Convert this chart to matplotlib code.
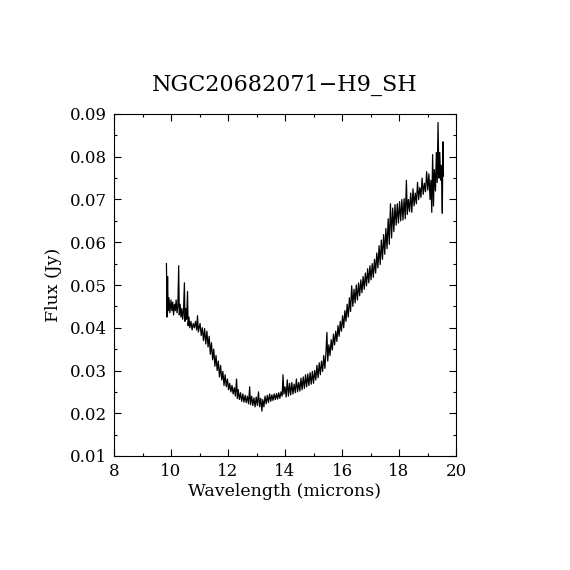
import matplotlib
matplotlib.use("Agg")
import matplotlib.pyplot as plt
from matplotlib.ticker import MultipleLocator, FormatStrFormatter

# spektrum: dlugosc fali (mikrony) i strumien (Jy)
wavelength = [
    9.84, 9.86, 9.88, 9.90, 9.93, 9.96, 10.00, 10.03, 10.06, 10.09,
    10.12, 10.15, 10.18, 10.21, 10.24, 10.27, 10.29, 10.32, 10.35, 10.38,
    10.41, 10.44, 10.47, 10.49, 10.52, 10.55, 10.58, 10.60, 10.63, 10.66,
    10.70, 10.74, 10.78, 10.82, 10.86, 10.90, 10.93, 10.96, 11.02, 11.06,
    11.10, 11.14, 11.18, 11.22, 11.26, 11.30, 11.34, 11.38, 11.42, 11.46,
    11.50, 11.54, 11.58, 11.62, 11.66, 11.70, 11.74, 11.78, 11.82, 11.86,
    11.90, 11.94, 11.98, 12.02, 12.06, 12.10, 12.14, 12.18, 12.22, 12.26,
    12.30, 12.33, 12.36, 12.40, 12.44, 12.48, 12.52, 12.56, 12.60, 12.64,
    12.68, 12.72, 12.76, 12.79, 12.83, 12.87, 12.91, 12.95, 12.99, 13.03,
    13.07, 13.11, 13.15, 13.19, 13.22, 13.26, 13.30, 13.34, 13.38, 13.42,
    13.46, 13.50, 13.54, 13.58, 13.62, 13.66, 13.70, 13.74, 13.78, 13.82,
    13.86, 13.90, 13.93, 13.96, 14.00, 14.04, 14.08, 14.12, 14.16, 14.20,
    14.24, 14.28, 14.32, 14.36, 14.40, 14.44, 14.48, 14.52, 14.56, 14.60,
    14.64, 14.68, 14.72, 14.76, 14.80, 14.84, 14.88, 14.92, 14.96, 15.00,
    15.04, 15.08, 15.12, 15.16, 15.20, 15.24, 15.28, 15.32, 15.36, 15.40,
    15.44, 15.47, 15.50, 15.54, 15.58, 15.62, 15.66, 15.70, 15.74, 15.78,
    15.82, 15.86, 15.90, 15.94, 15.98, 16.02, 16.06, 16.10, 16.14, 16.18,
    16.22, 16.26, 16.30, 16.34, 16.38, 16.42, 16.46, 16.50, 16.54, 16.58,
    16.62, 16.66, 16.70, 16.74, 16.78, 16.82, 16.86, 16.90, 16.94, 16.98,
    17.02, 17.06, 17.10, 17.14, 17.18, 17.22, 17.26, 17.30, 17.34, 17.38,
    17.42, 17.46, 17.50, 17.54, 17.58, 17.62, 17.66, 17.70, 17.74, 17.78,
    17.82, 17.86, 17.90, 17.94, 17.98, 18.02, 18.06, 18.10, 18.14, 18.18,
    18.22, 18.26, 18.29, 18.33, 18.37, 18.41, 18.45, 18.49, 18.53, 18.57,
    18.61, 18.65, 18.69, 18.73, 18.77, 18.81, 18.85, 18.89, 18.93, 18.97,
    19.01, 19.05, 19.09, 19.12, 19.15, 19.18, 19.21, 19.24, 19.28, 19.31,
    19.34, 19.37, 19.40, 19.43, 19.46, 19.49, 19.52, 19.54, 19.56,
]
flux = [
    # 9.84 - 10.96
    0.0550, 0.0425, 0.0520, 0.0440, 0.0470, 0.0435, 0.0465, 0.0440, 0.0460, 0.0430,
    0.0455, 0.0440, 0.0465, 0.0435, 0.0450, 0.0545, 0.0430, 0.0455, 0.0425, 0.0445,
    0.0420, 0.0440, 0.0505, 0.0415, 0.0445, 0.0420, 0.0485, 0.0405, 0.0425, 0.0400,
    0.0415, 0.0395, 0.0410, 0.0400, 0.0415, 0.0395, 0.0428, 0.0390,
    # 11.02 - 11.98
    0.0410, 0.0382, 0.0400, 0.0370, 0.0398, 0.0362, 0.0392, 0.0355, 0.0380, 0.0338,
    0.0365, 0.0325, 0.0350, 0.0310, 0.0335, 0.0300, 0.0322, 0.0285, 0.0312, 0.0278,
    0.0298, 0.0265, 0.0290, 0.0262, 0.0280,
    # 12.02 - 13.96
    0.0255, 0.0270, 0.0250, 0.0265, 0.0245, 0.0260, 0.0240,
    0.0280, 0.0235, 0.0255, 0.0232, 0.0248, 0.0228, 0.0245, 0.0226, 0.0242, 0.0225,
    0.0240, 0.0222, 0.0262, 0.0220, 0.0240, 0.0218, 0.0236, 0.0215, 0.0238, 0.0218,
    0.0250, 0.0215, 0.0235, 0.0205, 0.0232, 0.0215, 0.0240, 0.0222, 0.0242, 0.0225,
    0.0245, 0.0228, 0.0243, 0.0230, 0.0245, 0.0232, 0.0246, 0.0233, 0.0248, 0.0235,
    0.0250, 0.0240, 0.0290, 0.0245,
    # 14.00 - 14.96
    0.0262, 0.0238, 0.0278, 0.0240, 0.0270, 0.0243, 0.0272, 0.0245, 0.0268, 0.0248,
    0.0280, 0.0250, 0.0272, 0.0252, 0.0282, 0.0255, 0.0285, 0.0258, 0.0290, 0.0262,
    0.0292, 0.0265, 0.0295, 0.0268, 0.0298,
    # 15.00 - 15.47
    0.0270, 0.0300, 0.0278, 0.0312, 0.0283, 0.0318, 0.0290, 0.0322, 0.0298, 0.0335,
    0.0305, 0.0345, 0.0389,
    # 15.50 - 16.22
    0.0322, 0.0360, 0.0335, 0.0372, 0.0348, 0.0385, 0.0360, 0.0392, 0.0368, 0.0405,
    0.0380, 0.0415, 0.0392, 0.0428, 0.0400, 0.0440, 0.0415, 0.0455, 0.0425,
    # 16.26 - 17.10
    0.0470, 0.0438, 0.0498, 0.0450, 0.0490, 0.0458, 0.0500, 0.0465, 0.0505, 0.0475,
    0.0512, 0.0482, 0.0520, 0.0490, 0.0528, 0.0498, 0.0538, 0.0505, 0.0545, 0.0512,
    0.0550, 0.0518,
    # 17.14 - 18.22
    0.0560, 0.0528, 0.0575, 0.0540, 0.0592, 0.0548, 0.0605, 0.0560, 0.0618, 0.0572,
    0.0632, 0.0585, 0.0655, 0.0595, 0.0690, 0.0610, 0.0680, 0.0625, 0.0688, 0.0640,
    0.0690, 0.0645, 0.0695, 0.0650, 0.0700, 0.0652, 0.0702, 0.0655,
    # 18.26 - 19.56
    0.0745, 0.0665, 0.0700, 0.0672, 0.0715, 0.0670, 0.0725, 0.0685, 0.0715, 0.0690,
    0.0740, 0.0700, 0.0728, 0.0705, 0.0750, 0.0712, 0.0738, 0.0718, 0.0765, 0.0722,
    0.0760, 0.0700, 0.0745, 0.0670, 0.0805, 0.0685, 0.0770, 0.0720, 0.0810, 0.0740,
    0.0880, 0.0750, 0.0810, 0.0745, 0.0780, 0.0668, 0.0835, 0.0755,
]

plt.rcParams['font.family'] = ['DejaVu Serif']

fig = plt.figure(figsize=(5.7, 5.7), dpi=100)
ax = fig.add_axes([0.2, 0.2, 0.6, 0.6])

ax.plot(wavelength, flux, color='black', lw=0.9)

ax.set_xlim(8, 20)
ax.set_ylim(0.01, 0.09)
ax.xaxis.set_major_locator(MultipleLocator(2))
ax.xaxis.set_minor_locator(MultipleLocator(1))
ax.yaxis.set_major_locator(MultipleLocator(0.01))
ax.yaxis.set_minor_locator(MultipleLocator(0.005))
ax.yaxis.set_major_formatter(FormatStrFormatter('%.2f'))

ax.tick_params(which='both', direction='in', top=True, right=True,
               width=0.8, labelsize=12)
ax.tick_params(which='major', length=5, pad=5)
ax.tick_params(which='minor', length=2.5)
for s in ax.spines.values():
    s.set_linewidth(0.8)

ax.set_title('NGC20682071\u2212H9_SH', fontsize=16, pad=17)
ax.set_xlabel('Wavelength (microns)', fontsize=12.5, labelpad=2)
ax.set_ylabel('Flux (Jy)', fontsize=12.5, labelpad=6)

fig.savefig('out.png', dpi=100, facecolor='white')
